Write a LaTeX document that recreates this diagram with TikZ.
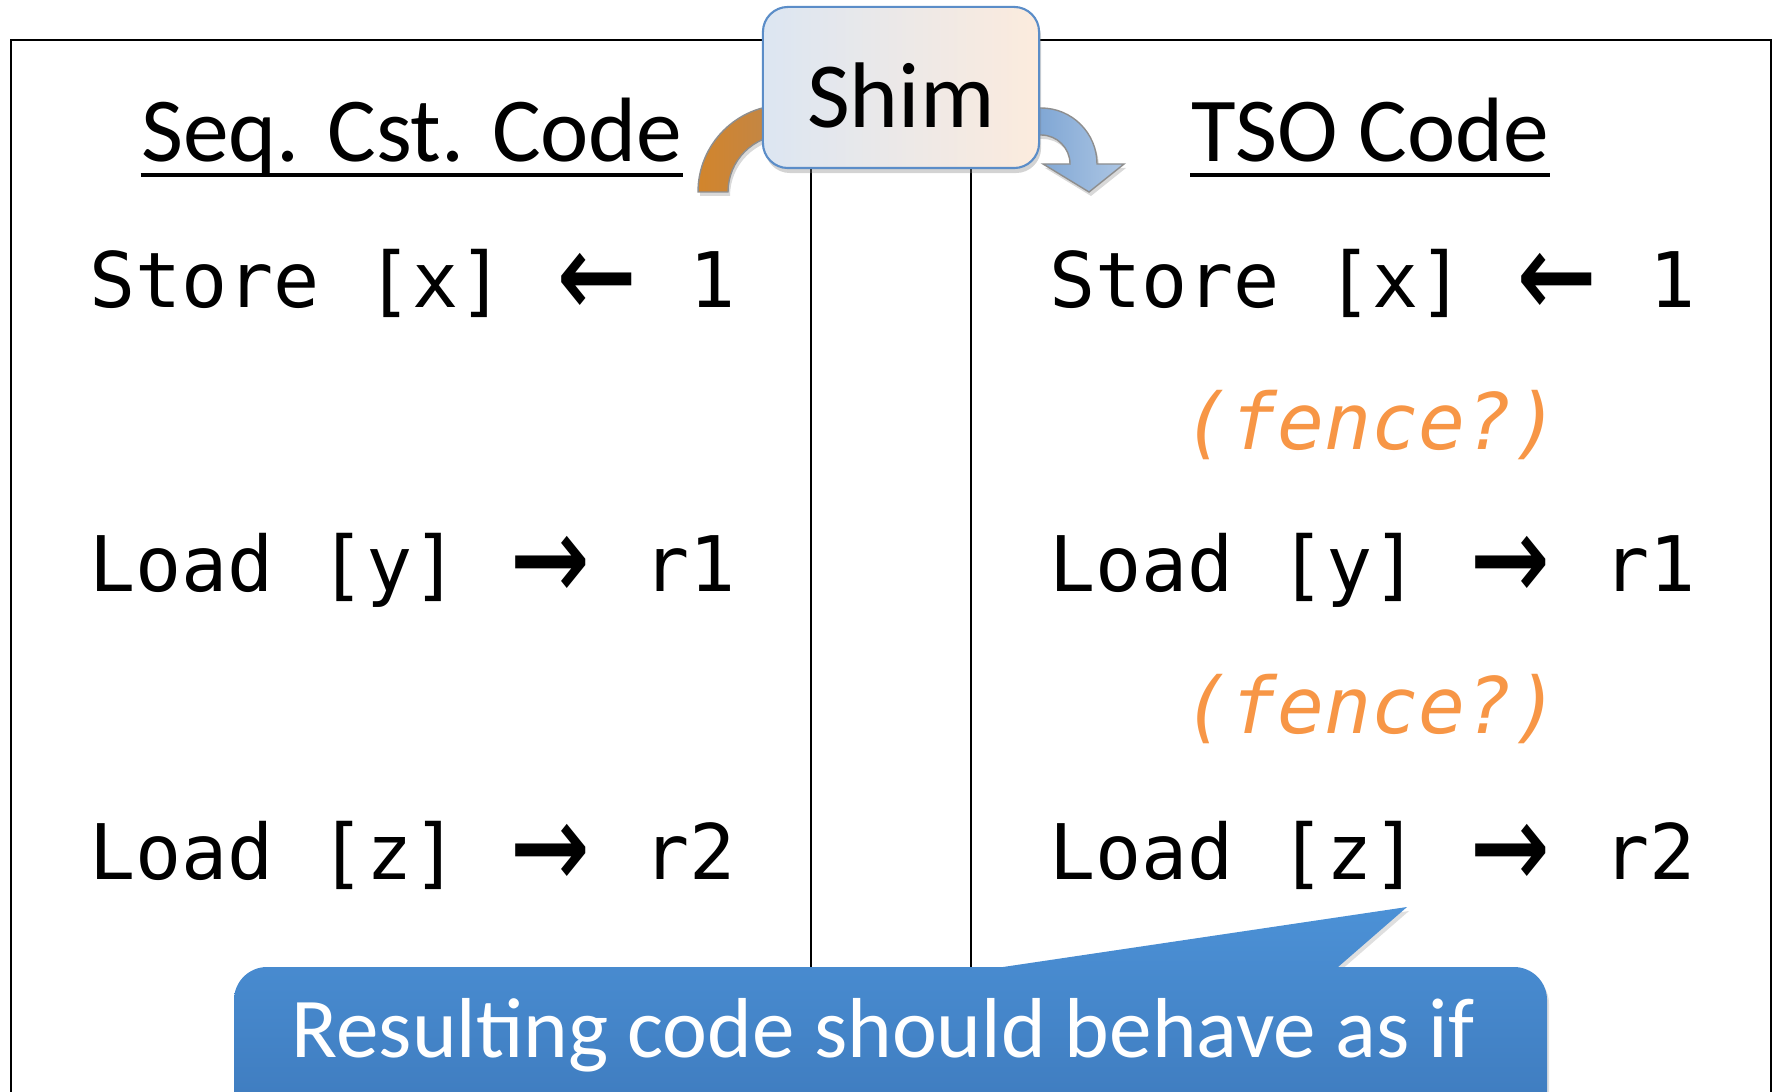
\documentclass[tikz,border=0pt]{standalone}
\usepackage{fontspec}
\usepackage{graphicx}
\setmainfont{Carlito}
\newfontfamily\codefont{DejaVu Sans Mono}
\usetikzlibrary{shadows,calc}
\definecolor{fenceorange}{HTML}{F79646}
\definecolor{boxblue}{HTML}{5B8DC8}
\definecolor{shimleft}{HTML}{DCE6F2}
\definecolor{shimright}{HTML}{FCEBDD}
\definecolor{calltop}{HTML}{4C91D6}
\definecolor{callbot}{HTML}{3E7BBE}
\definecolor{arrgray}{HTML}{8E8E8E}
\definecolor{orangeL}{HTML}{D2852C}
\definecolor{orangeR}{HTML}{BC8650}
\newcommand{\codeLarr}{\makebox[1.204em]{\raisebox{-0.2em}{\scalebox{1.7}[2.1]{←}}}}
\newcommand{\codeRarr}{\makebox[1.204em]{\raisebox{-0.2em}{\scalebox{1.7}[2.1]{→}}}}
\begin{document}
\begin{tikzpicture}[x=0.01cm,y=-0.01cm,
  frame/.style={line width=0.65pt},
  divider/.style={line width=0.5pt},
  heading/.style={anchor=base, inner sep=0pt, font=\fontsize{26pt}{30pt}\selectfont},
  uline/.style={line width=1.4pt},
  code/.style={anchor=base west, inner sep=0pt, font=\codefont\fontsize{21.8pt}{26pt}\selectfont},
  fence/.style={anchor=base, inner sep=0pt, text=fenceorange, font=\codefont\itshape\fontsize{22.2pt}{24pt}\selectfont},
  shimbox/.style={draw=boxblue, line width=0.6pt, rounded corners=0.25cm,
    left color=shimleft, right color=shimright,
    minimum width=2.76cm, minimum height=1.61cm, inner sep=0pt,
    text height=22.5pt, text depth=0pt,
    font=\fontsize{26.5pt}{30pt}\selectfont,
    drop shadow={opacity=0.35, shadow xshift=0.02cm, shadow yshift=-0.05cm}},
  orangearrow/.style={draw=arrgray, line width=0.4pt, left color=orangeL, right color=orangeR,
    drop shadow={opacity=0.3, shadow xshift=0.02cm, shadow yshift=-0.04cm}},
  bluearrow/.style={draw=arrgray, line width=0.4pt, left color=boxblue!90, right color=boxblue!50,
    drop shadow={opacity=0.3, shadow xshift=0.02cm, shadow yshift=-0.04cm}},
  callout/.style={top color=calltop, bottom color=callbot,
    drop shadow={opacity=0.25, shadow xshift=0.02cm, shadow yshift=-0.04cm}},
  calltext/.style={anchor=base, inner sep=0pt, text=white, font=\fontsize{24.2pt}{28pt}\selectfont}
]
\useasboundingbox (0,0) rectangle (1774,1092);
\clip (0,0) rectangle (1774,1092);

% outer frame
\draw[frame] (11,1120) -- (11,40) -- (1771,40) -- (1771,1120);

% column dividers
\draw[divider] (811,160) -- (811,970);
\draw[divider] (971,160) -- (971,970);

% curved arrows (behind the Shim box)
\path[orangearrow] (698,192) arc[start angle=180, end angle=270, radius=87]
  -- (800,105) -- (800,135) -- (785,135) arc[start angle=270, end angle=180, radius=57] -- cycle;
\path[bluearrow] (1000,108) -- (1041,108) arc[start angle=270, end angle=360, radius=56]
  -- (1124,164) -- (1089,192) -- (1043,164) -- (1070,164)
  arc[start angle=360, end angle=270, radius=29] -- (1000,135) -- cycle;

% Shim box
\node[shimbox] (shim) at (901,87.5) {Shim};

% headings
\node[heading] (sc) at (412,162) {Seq. Cst. Code};
\node[heading] (tso) at (1370,162) {TSO Code};
\draw[uline] ($(sc.base west)+(0,13)$) -- ($(sc.base east)+(0,13)$);
\draw[uline] ($(tso.base west)+(0,13)$) -- ($(tso.base east)+(0,13)$);

% left column code
\node[code] (l1) at (88.5,308) {Store [x] \codeLarr{} 1};
\node[code] (l2) at (88.5,591) {Load [y] \codeRarr{} r1};
\node[code] (l3) at (88.5,879) {Load [z] \codeRarr{} r2};

% right column code
\node[code] (r1) at (1048.5,308) {Store [x] \codeLarr{} 1};
\node[fence] (f1) at (1371,450) {(fence?)};
\node[code] (r2) at (1048.5,591) {Load [y] \codeRarr{} r1};
\node[fence] (f2) at (1371,733) {(fence?)};
\node[code] (r3) at (1048.5,879) {Load [z] \codeRarr{} r2};

% callout
\path[callout] (234,1120) -- (234,1000) arc[start angle=180, end angle=270, radius=33]
  -- (1003,967) -- (1407,907) -- (1338,967) -- (1514,967)
  arc[start angle=270, end angle=360, radius=33] -- (1547,1120) -- cycle;
\node[calltext] (note) at (883,1057) {Resulting code should behave as if};
\end{tikzpicture}
\end{document}
